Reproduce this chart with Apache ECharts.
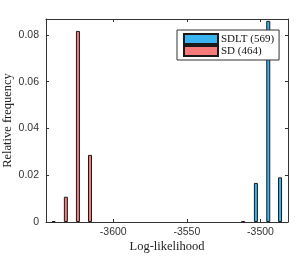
<!DOCTYPE html>
<html>
<head>
<meta charset="utf-8">
<script src="https://cdn.jsdelivr.net/npm/echarts@6/dist/echarts.min.js"></script>
<style>
html,body{margin:0;padding:0;background:#fff;}
#c{width:299px;height:257px;}
</style>
</head>
<body>
<div id="c"></div>
<script>
// Bin centres (log-likelihood) and relative frequencies
const sdBins = [-3640.5, -3632.2, -3624.0, -3615.8];
const sdFreq = [0.0004, 0.0108, 0.0817, 0.0287];
const sdltBins = [-3511.8, -3503.1, -3494.7, -3486.7];
const sdltFreq = [0.0004, 0.0167, 0.0860, 0.0191];
const xTicks = [-3600, -3550, -3500];
const yTicks = [0, 0.02, 0.04, 0.06, 0.08];
const seriesNames = ['SDLT (569)', 'SD (464)'];

const pair = (xs, ys) => xs.map((x, i) => [x, ys[i]]);
const axisCol = '#333';
const sans = 'Liberation Sans';
const serif = 'Liberation Serif';

const chart = echarts.init(document.getElementById('c'), null, {renderer: 'canvas'});
const xMin = -3645.7, xMax = -3481.3, yMax = 0.0868;

chart.setOption({
  animation: false,
  grid: {left: 46, right: 11, top: 19, bottom: 35, containLabel: false, outerBoundsMode: 'none'},
  legend: {
    orient: 'vertical',
    left: 177, top: 30,
    padding: [3, 5, 3, 6],
    itemGap: 0,
    itemWidth: 34, itemHeight: 10,
    borderColor: '#333', borderWidth: 1,
    backgroundColor: '#fff',
    icon: 'rect',
    z: 10,
    textStyle: {fontFamily: serif, fontSize: 11, color: '#111', lineHeight: 12, padding: [0, 0, 0, -2]},
    data: seriesNames
  },
  xAxis: [{
    type: 'value', min: xMin, max: xMax, position: 'bottom',
    name: 'Log-likelihood', nameLocation: 'middle', nameGap: 18, nameMoveOverlap: false,
    nameTextStyle: {fontFamily: serif, fontSize: 12.5, color: '#222'},
    axisLine: {show: true, onZero: false, lineStyle: {color: axisCol, width: 1}},
    axisTick: {show: true, inside: true, length: 3, customValues: xTicks, lineStyle: {color: axisCol}},
    axisLabel: {show: true, customValues: xTicks, margin: 5, fontFamily: sans, fontSize: 10.5, color: '#333',
      formatter: v => String(v)},
    splitLine: {show: false}
  }, {
    type: 'value', min: xMin, max: xMax, position: 'top',
    axisLine: {show: true, onZero: false, lineStyle: {color: axisCol, width: 1}},
    axisTick: {show: true, inside: true, length: 3, customValues: xTicks, lineStyle: {color: axisCol}},
    axisLabel: {show: false},
    splitLine: {show: false}
  }],
  yAxis: [{
    type: 'value', min: 0, max: yMax, position: 'left',
    name: 'Relative frequency', nameLocation: 'middle', nameGap: 32, nameMoveOverlap: false,
    nameTextStyle: {fontFamily: serif, fontSize: 12.5, color: '#222'},
    axisLine: {show: true, onZero: false, lineStyle: {color: axisCol, width: 1}},
    axisTick: {show: true, inside: true, length: 3, customValues: yTicks, lineStyle: {color: axisCol}},
    axisLabel: {show: true, customValues: yTicks, margin: 7, fontFamily: sans, fontSize: 10.5, color: '#333',
      formatter: v => String(+v.toFixed(4))},
    splitLine: {show: false}
  }, {
    type: 'value', min: 0, max: yMax, position: 'right',
    axisLine: {show: true, onZero: false, lineStyle: {color: axisCol, width: 1}},
    axisTick: {show: true, inside: true, length: 3, customValues: yTicks, lineStyle: {color: axisCol}},
    axisLabel: {show: false},
    splitLine: {show: false}
  }],
  series: [{
    name: seriesNames[0], type: 'bar', xAxisIndex: 0, yAxisIndex: 0,
    barWidth: 4, barGap: '-100%',
    itemStyle: {color: '#3AB4F2', borderColor: '#1a1a1a', borderWidth: 1},
    data: pair(sdltBins, sdltFreq)
  }, {
    name: seriesNames[1], type: 'bar', xAxisIndex: 0, yAxisIndex: 0,
    barWidth: 4, barGap: '-100%',
    itemStyle: {color: '#F77B7B', borderColor: '#1a1a1a', borderWidth: 1},
    data: pair(sdBins, sdFreq)
  }]
});
</script>
</body>
</html>
